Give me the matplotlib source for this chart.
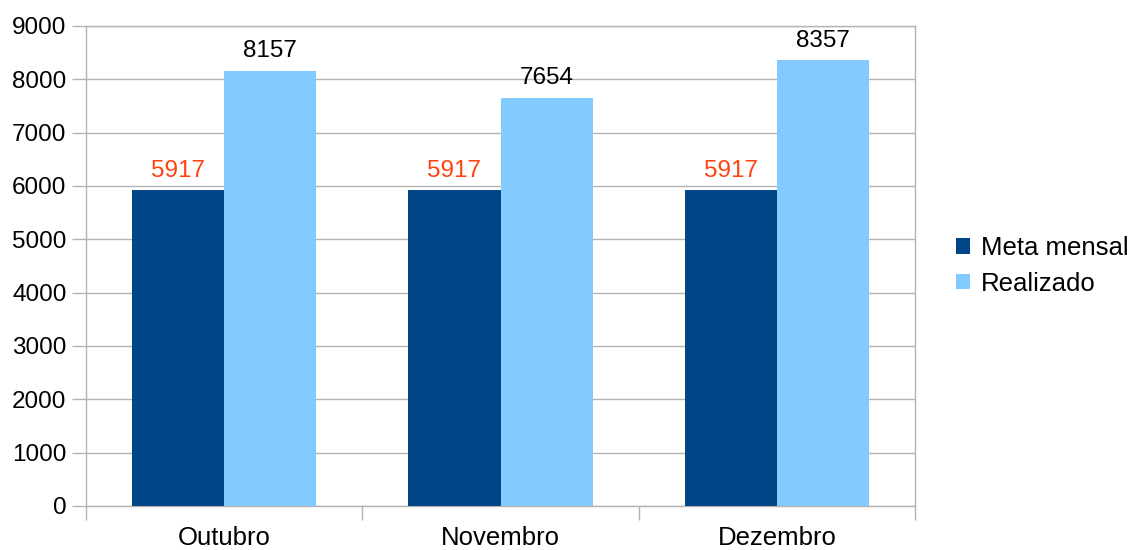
import matplotlib
matplotlib.use("Agg")
import matplotlib.pyplot as plt
import numpy as np

categories = ["Outubro", "Novembro", "Dezembro"]
meta = [5917, 5917, 5917]
realizado = [8157, 7654, 8357]
series_names = ["Meta mensal", "Realizado"]
yticks = list(range(0, 9001, 1000))

plt.rcParams['font.family'] = ['Liberation Sans', 'DejaVu Sans']

fig = plt.figure(figsize=(11.32, 5.5), dpi=100)
ax = fig.add_axes([86/1132, 44/550, (915-86)/1132, (506-26)/550])

gray = "#b3b3b3"
c1 = "#004586"
c2 = "#83caff"
x = np.arange(len(categories))
w = 1/3
b1 = ax.bar(x - w/2, meta, w, color=c1, label=series_names[0], zorder=3)
b2 = ax.bar(x + w/2, realizado, w, color=c2, label=series_names[1], zorder=3)

for rect, v in zip(b1, meta):
    ax.text(rect.get_x() + rect.get_width()/2, v + 160, str(v), ha="center", va="bottom",
            fontsize=17.5, color="#ff420e")
for rect, v in zip(b2, realizado):
    ax.text(rect.get_x() + rect.get_width()/2, v + 160, str(v), ha="center", va="bottom",
            fontsize=17.5, color="black")

ax.set_xlim(-0.5, 2.5)
ax.set_ylim(0, 9000)
ax.set_yticks(yticks)
ax.yaxis.grid(True, color=gray, linewidth=1, zorder=0)
ax.set_axisbelow(True)
ax.set_xticks(x)
ax.set_xticklabels(categories, fontsize=18.5)
ax.set_xticks([-0.5, 0.5, 1.5, 2.5], minor=True)
ax.tick_params(axis="x", which="major", length=0, pad=14.5)
ax.tick_params(axis="x", which="minor", length=10, color=gray, width=1)
ax.tick_params(axis="y", length=10, color=gray, width=1, labelsize=17.5, pad=4)
for s in ax.spines.values():
    s.set_color(gray)
    s.set_linewidth(1)

leg = ax.legend(loc="center left", bbox_to_anchor=(1.0365, 0.5), frameon=False,
                fontsize=18.5, handlelength=0.55, handleheight=0.55, handletextpad=0.45,
                labelspacing=0.45, borderaxespad=0)

fig.savefig("out.png", dpi=100)
